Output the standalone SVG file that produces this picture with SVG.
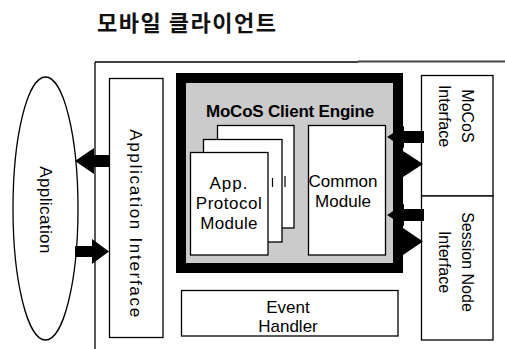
<svg xmlns="http://www.w3.org/2000/svg" width="505" height="349" viewBox="0 0 505 349">
<style>
.box{fill:#fff;stroke:#000;stroke-width:1.3}
.t{font-family:"Liberation Sans",Arial,sans-serif;font-size:17px;fill:#000}
.ts{font-family:"Liberation Sans",Arial,sans-serif;font-size:16px;fill:#000}
.ar{fill:#000;stroke:none}
</style>
<rect width="505" height="349" fill="#fff"/>
<text x="97" y="31" font-family="'Noto Sans CJK KR','Noto Sans',sans-serif" font-size="22" font-weight="bold" letter-spacing="1.5" fill="#111">모바일 클라이언트</text>
<g id="frame">
<line x1="95" y1="62" x2="358" y2="62" stroke="#000" stroke-width="1.3"/>
<line x1="358" y1="61.5" x2="505" y2="61.5" stroke="#444" stroke-width="1.8"/>
<line x1="95" y1="62" x2="95" y2="349" stroke="#000" stroke-width="1.3"/>
</g>
<g id="application">
<ellipse cx="45.5" cy="208.5" rx="32.5" ry="131.5" fill="#fff" stroke="#000" stroke-width="1.3"/>
<text class="t" transform="translate(45.5,210) rotate(90)" x="0" y="6" text-anchor="middle" letter-spacing="0.4">Application</text>
</g>
<g id="app-interface">
<rect class="box" x="109.5" y="78.5" width="53.5" height="259"/>
<text class="t" transform="translate(136,224) rotate(90)" x="0" y="6" text-anchor="middle" letter-spacing="1.7">Application Interface</text>
</g>
<g id="engine">
<rect x="181" y="78" width="217" height="190" fill="#cbcbcb" stroke="#000" stroke-width="10"/>
<text x="290" y="117" text-anchor="middle" font-family="'Liberation Sans',Arial,sans-serif" font-size="17" font-weight="bold" letter-spacing="-0.2" fill="#000">MoCoS Client  Engine</text>
</g>
<g id="app-protocol-module">
<rect class="box" x="217.5" y="125.5" width="76.5" height="102.5"/>
<rect class="box" x="203.5" y="139.5" width="78.5" height="102.5"/>
<rect class="box" x="190.5" y="152.5" width="77.5" height="102.5"/>
<path d="M272.5 178v9M285 176v11" stroke="#000" stroke-width="1.2" fill="none"/>
<text class="t" x="229" y="189" text-anchor="middle" letter-spacing="1">App.</text>
<text class="t" x="229" y="209" text-anchor="middle" letter-spacing="0.5">Protocol</text>
<text class="t" x="229" y="229" text-anchor="middle" letter-spacing="0.3">Module</text>
</g>
<g id="common-module">
<rect class="box" x="308.5" y="125.5" width="77" height="129.5"/>
<text class="t" x="343" y="187" text-anchor="middle">Common</text>
<text class="t" x="343" y="207" text-anchor="middle">Module</text>
</g>
<g id="event-handler">
<rect class="box" x="181.5" y="290.5" width="216.5" height="45.5"/>
<text class="t" x="288" y="313" text-anchor="middle">Event</text>
<text class="t" x="288" y="332" text-anchor="middle">Handler</text>
</g>
<g id="mocos-interface">
<rect class="box" x="421.5" y="75.5" width="71.5" height="120.5"/>
<g transform="translate(456,116) rotate(90)">
<text class="ts" x="0" y="-6" text-anchor="middle">MoCoS</text>
<text class="ts" x="0" y="17" text-anchor="middle">Interface</text>
</g>
</g>
<g id="session-node-interface">
<rect class="box" x="421.5" y="196" width="71.5" height="144"/>
<g transform="translate(456,262) rotate(90)">
<text class="ts" x="0" y="-6" text-anchor="middle">Session Node</text>
<text class="ts" x="0" y="17" text-anchor="middle">Interface</text>
</g>
</g>
<g id="connectors">
<rect class="ar" x="92" y="155" width="17" height="12"/>
<polygon class="ar" points="94,148 94,174 75,161"/>
<rect class="ar" x="75" y="246" width="18" height="11"/>
<polygon class="ar" points="92,239 92,264 109,251.5"/>
<rect class="ar" x="400" y="131" width="24" height="12"/>
<polygon class="ar" points="404,126 404,148 387,137"/>
<rect class="ar" x="393" y="159" width="14" height="11"/>
<polygon class="ar" points="403,151 403,177 423,164"/>
<rect class="ar" x="400" y="209" width="24" height="12"/>
<polygon class="ar" points="404,204 404,226 387,215"/>
<rect class="ar" x="393" y="236" width="14" height="11"/>
<polygon class="ar" points="403,228 403,255 423,241.5"/>
</g>
</svg>
